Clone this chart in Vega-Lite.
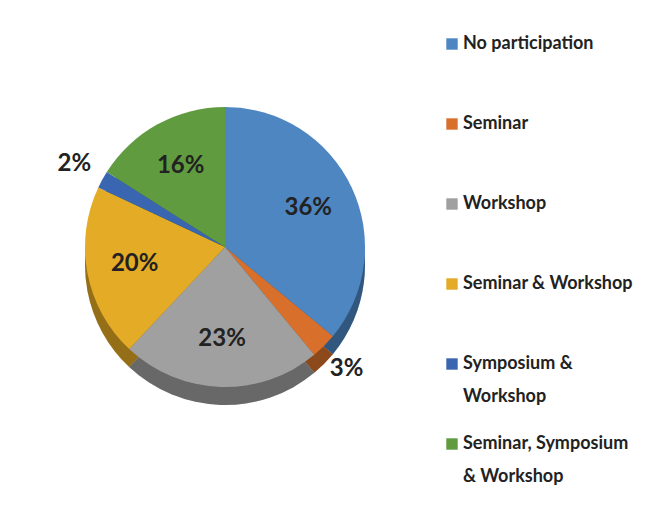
{
  "$schema": "https://vega.github.io/schema/vega-lite/v6.json",
  "width": 390,
  "height": 342,
  "autosize": {"type": "none"},
  "padding": {"left": 30, "top": 88, "right": 232, "bottom": 93},
  "background": "white",
  "config": {
    "view": {"fill": "#f7f7f7", "stroke": null},
    "font": "Lato",
    "style": {"guide-label": {"lineHeight": 33}}
  },
  "data": {"values": [
    {"category": "No participation", "percent": 36, "rank": 1},
    {"category": "Seminar", "percent": 3, "rank": 2},
    {"category": "Workshop", "percent": 23, "rank": 3},
    {"category": "Seminar & Workshop", "percent": 20, "rank": 4},
    {"category": "Symposium & Workshop", "percent": 2, "rank": 5},
    {"category": "Seminar, Symposium & Workshop", "percent": 16, "rank": 6}
  ]},
  "transform": [{"calculate": "datum.percent + '%'", "as": "label"}],
  "encoding": {
    "theta": {"field": "percent", "type": "quantitative", "stack": true},
    "order": {"field": "rank", "type": "quantitative"},
    "color": {"field": "category", "type": "nominal",
      "scale": {"domain": ["No participation", "Seminar", "Workshop", "Seminar & Workshop", "Symposium & Workshop", "Seminar, Symposium & Workshop"],
                "range": ["#4e86c2", "#d8702c", "#a0a0a0", "#e4ab26", "#3a65b0", "#609b40"]},
      "legend": {
        "orient": "none", "legendX": 413, "legendY": -53, "title": null,
        "symbolType": "square", "symbolSize": 130, "symbolStrokeWidth": 0, "symbolOpacity": 1,
        "labelFont": "Lato", "labelFontSize": 18, "labelFontWeight": "bold", "labelColor": "#222222",
        "gridAlign": "all", "rowPadding": 29, "labelLimit": 300, "labelOffset": 2,
        "labelExpr": "datum.label == 'Symposium & Workshop' ? ['Symposium &', 'Workshop'] : datum.label == 'Seminar, Symposium & Workshop' ? ['Seminar, Symposium', '& Workshop'] : datum.label"
      }
    }
  },
  "layer": [
    {
      "mark": {"type": "arc", "outerRadius": 140, "yOffset": 6}
    },
    {
      "mark": {"type": "arc", "outerRadius": 140, "yOffset": 6, "fill": "black", "opacity": 0.35}
    },
    {
      "mark": {"type": "arc", "outerRadius": 140, "yOffset": -12}
    },
    {
      "mark": {"type": "text", "radius": 92, "yOffset": -12, "fontSize": 24, "fontWeight": "bold", "fill": "#222222", "font": "Lato"},
      "encoding": {
        "text": {"condition": {"test": "datum.percent < 5", "value": ""}, "field": "label", "type": "nominal"}
      }
    },
    {
      "mark": {"type": "text", "radius": 172, "yOffset": -12, "fontSize": 24, "fontWeight": "bold", "fill": "#222222", "font": "Lato"},
      "encoding": {
        "text": {"condition": {"test": "datum.percent >= 5", "value": ""}, "field": "label", "type": "nominal"}
      }
    }
  ]
}
